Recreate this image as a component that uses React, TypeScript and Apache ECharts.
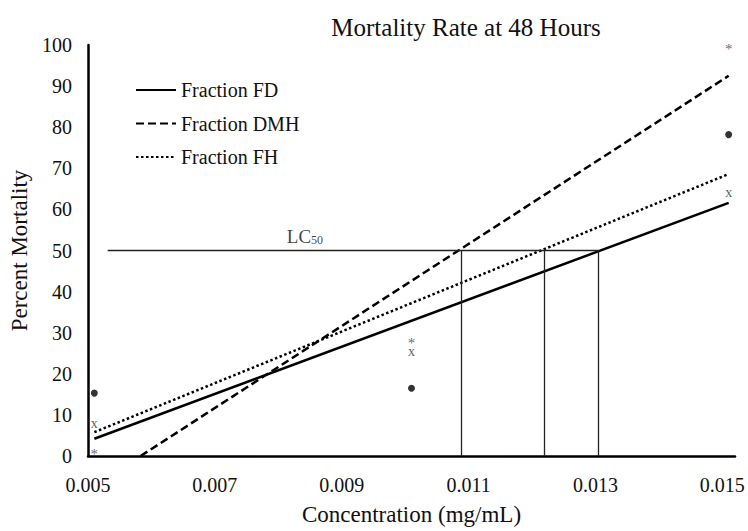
import React, { useEffect, useRef } from "react";
import * as echarts from "echarts";

// Concentrations (mg/mL)
const concentrations = [0.0051, 0.0101, 0.0151];
// Observed mortality (%)
const fdObserved = [7.8, 25.5, 64];      // "x" markers
const dmhObserved = [0.5, 27.5, 99];     // "*" markers
const fhObserved = [15.3, 16.5, 78.2];   // dot markers

// Trendline endpoints: [x, y]
const fdTrend = [[0.0051, 4.2], [0.0151, 61.6]];
const dmhTrend = [[0.00583, 0], [0.0151, 92.5]];
const fhTrend = [[0.0051, 5.8], [0.0151, 68.6]];

// LC50 guide lines
const lc50Value = 50;
const lc50Start = 0.00531;
const lc50X = [0.01089, 0.0122, 0.01305];
const lc50LabelPos = [0.00842, 53.6];

const xTicks = [0.005, 0.007, 0.009, 0.011, 0.013, 0.015];

const FONT = "'Liberation Serif', 'DejaVu Serif', serif";

export default function App() {
  const ref = useRef<HTMLDivElement>(null);
  useEffect(() => {
    document.body.style.margin = "0";
    if (!ref.current) return;
    const chart = echarts.init(ref.current, undefined, { renderer: "svg" });
    const pts = (ys: number[]) => concentrations.map((x, i) => [x, ys[i]]);
    const guideSegs = [
      [{ coord: [lc50Start, lc50Value] }, { coord: [lc50X[2], lc50Value] }],
      ...lc50X.map((x) => [{ coord: [x, 0] }, { coord: [x, lc50Value] }]),
    ];
    const glyphLabel = (ch: string, color: string, size: number) => ({
      show: true,
      position: "inside",
      formatter: ch,
      fontFamily: FONT,
      fontSize: size,
      color,
      textBorderWidth: 0,
      textBorderColor: "transparent",
    });
    chart.setOption({
      animation: false,
      textStyle: { fontFamily: FONT, color: "#000" },
      title: {
        text: "Mortality Rate at 48 Hours",
        left: 461,
        top: 10,
        textAlign: "center",
        textStyle: { fontFamily: FONT, fontSize: 25, fontWeight: "normal", color: "#111" },
      },
      grid: { left: 83, right: 13, top: 45, bottom: 74 },
      legend: {
        orient: "vertical",
        left: 130,
        top: 75,
        itemWidth: 40,
        itemHeight: 18,
        itemGap: 13.5,
        data: ["Fraction FD", "Fraction DMH", "Fraction FH"],
        textStyle: { fontFamily: FONT, fontSize: 20, color: "#111" },
      },
      xAxis: {
        type: "value",
        min: 0.005,
        max: 0.0152,
        interval: 0.002,
        name: "Concentration (mg/mL)",
        nameLocation: "middle",
        nameGap: 47,
        nameTextStyle: { fontFamily: FONT, fontSize: 23, color: "#111" },
        axisLine: { show: true, onZero: false, lineStyle: { color: "#000", width: 2.5 } },
        axisTick: { show: false },
        splitLine: { show: false },
        axisLabel: {
          margin: 19,
          fontFamily: FONT,
          fontSize: 20,
          color: "#111",
          formatter: (v: number) => {
            const t = xTicks.find((k) => Math.abs(k - v) < 1e-7);
            return t === undefined ? "" : t.toFixed(3);
          },
        },
      },
      yAxis: {
        type: "value",
        min: 0,
        max: 100,
        interval: 10,
        name: "Percent Mortality",
        nameLocation: "middle",
        nameGap: 57,
        nameTextStyle: { fontFamily: FONT, fontSize: 23, color: "#111" },
        axisLine: { show: true, lineStyle: { color: "#000", width: 2.5 } },
        axisTick: { show: false },
        splitLine: { show: false },
        axisLabel: { margin: 16, fontFamily: FONT, fontSize: 20, color: "#111" },
      },
      series: [
        {
          name: "Fraction FD",
          type: "line",
          data: fdTrend,
          symbol: "none",
          lineStyle: { color: "#000", width: 2.5, type: "solid" },
          itemStyle: { color: "rgba(0,0,0,0)" },
        },
        {
          name: "Fraction DMH",
          type: "line",
          data: dmhTrend,
          symbol: "none",
          lineStyle: { color: "#000", width: 2.5, type: [8, 4] },
          itemStyle: { color: "rgba(0,0,0,0)" },
        },
        {
          name: "Fraction FH",
          type: "line",
          data: fhTrend,
          symbol: "none",
          lineStyle: { color: "#000", width: 2.5, type: [2.5, 2.5] },
          itemStyle: { color: "rgba(0,0,0,0)" },
        },
        {
          name: "LC50 guides",
          type: "line",
          data: [],
          symbol: "none",
          markLine: {
            silent: true,
            symbol: ["none", "none"],
            label: { show: false },
            lineStyle: { color: "#222", width: 1.3, type: "solid" },
            data: guideSegs,
          },
        },
        {
          name: "FD observed",
          type: "scatter",
          data: pts(fdObserved),
          symbolSize: 1,
          itemStyle: { color: "rgba(0,0,0,0)" },
          label: glyphLabel("x", "#333", 14),
        },
        {
          name: "DMH observed",
          type: "scatter",
          data: pts(dmhObserved),
          symbolSize: 1,
          itemStyle: { color: "rgba(0,0,0,0)" },
          label: glyphLabel("*", "#444", 15),
        },
        {
          name: "FH observed",
          type: "scatter",
          data: pts(fhObserved),
          symbol: "circle",
          symbolSize: 7,
          itemStyle: { color: "#000" },
        },
        {
          name: "LC50 label",
          type: "scatter",
          data: [lc50LabelPos],
          symbolSize: 1,
          itemStyle: { color: "rgba(0,0,0,0)" },
          label: {
            show: true,
            position: "inside",
            formatter: "{a|LC}{b|50}",
            color: "#111",
            textBorderWidth: 0,
            textBorderColor: "transparent",
            rich: {
              a: { fontFamily: FONT, fontSize: 19, color: "#111", verticalAlign: "bottom" },
              b: { fontFamily: FONT, fontSize: 12, color: "#111", padding: [8, 0, 0, 0], verticalAlign: "bottom" },
            },
          },
        },
      ],
    });
    return () => chart.dispose();
  }, []);
  return <div ref={ref} style={{ width: 748, height: 531 }} />;
}
